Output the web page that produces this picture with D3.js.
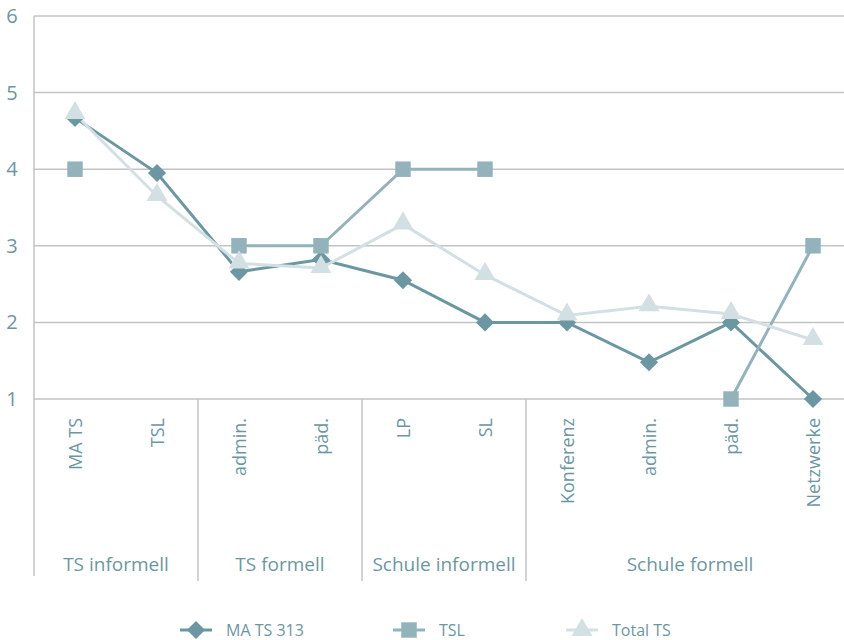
<!DOCTYPE html>
<html>
<head>
<meta charset="utf-8">
<script src="https://cdn.jsdelivr.net/npm/d3@7"></script>
<style>
  html, body { margin: 0; padding: 0; background: #fff; }
  svg { display: block; font-family: "Open Sans", sans-serif; }
</style>
</head>
<body>
<svg id="chart" width="844" height="640"></svg>
<script>
// Categories (inner level) and their groups (outer level)
const categories = ["MA TS", "TSL", "admin.", "päd.", "LP", "SL", "Konferenz", "admin.", "päd.", "Netzwerke"];
const groups = [
  { name: "TS informell", from: 0, to: 2 },
  { name: "TS formell", from: 2, to: 4 },
  { name: "Schule informell", from: 4, to: 6 },
  { name: "Schule formell", from: 6, to: 10 }
];
const yTicks = [1, 2, 3, 4, 5, 6];

// Series values (null = no value)
const maTs313 = [4.67, 3.95, 2.66, 2.82, 2.55, 2.0, 2.0, 1.48, 2.0, 1.0];
const tsl     = [4.0, null, 3.0, 3.0, 4.0, 4.0, null, null, 1.0, 3.0];
const totalTs = [4.72, 3.65, 2.77, 2.71, 3.28, 2.62, 2.09, 2.21, 2.11, 1.77];

const series = [
  { name: "MA TS 313", values: maTs313, color: "#6b97a2", symbol: d3.symbolDiamond2, size: 210 },
  { name: "TSL",       values: tsl,     color: "#93b3bc", symbol: d3.symbolSquare, size: 240 },
  { name: "Total TS",  values: totalTs, color: "#d3e0e3", symbol: d3.symbolTriangle, size: 190 }
];

const textColor = "#6b97a3";
const gridColor = "#c3c3c3";

const svg = d3.select("#chart");
const plotLeft = 34, plotTop = 16, plotBottom = 399;
const x = d3.scaleBand().domain(d3.range(categories.length)).range([plotLeft, plotLeft + 820]);
const y = d3.scaleLinear().domain([1, 6]).range([plotBottom, plotTop]);

// Horizontal gridlines
svg.append("g").selectAll("line").data(yTicks).join("line")
  .attr("x1", plotLeft).attr("x2", 844)
  .attr("y1", d => y(d)).attr("y2", d => y(d))
  .attr("stroke", gridColor).attr("stroke-width", 1.5);

// Y tick labels
svg.append("g").selectAll("text").data(yTicks).join("text")
  .attr("x", 12).attr("y", d => y(d) + 7)
  .attr("text-anchor", "middle")
  .attr("fill", textColor).attr("font-size", 20)
  .text(d => d);

// Vertical axis line and group separators
svg.append("line").attr("x1", plotLeft).attr("x2", plotLeft).attr("y1", plotTop).attr("y2", 576)
  .attr("stroke", gridColor).attr("stroke-width", 1.5);
svg.append("g").selectAll("line").data(groups.slice(1)).join("line")
  .attr("x1", d => x(d.from)).attr("x2", d => x(d.from))
  .attr("y1", plotBottom).attr("y2", 581)
  .attr("stroke", gridColor).attr("stroke-width", 1.5);

// Category labels (rotated)
svg.append("g").selectAll("text").data(categories).join("text")
  .attr("transform", (d, i) => `translate(${x(i) + x.bandwidth() / 2 + 7},418) rotate(-90)`)
  .attr("text-anchor", "end")
  .attr("fill", textColor).attr("font-size", 18)
  .text(d => d);

// Group labels
svg.append("g").selectAll("text").data(groups).join("text")
  .attr("x", d => (x(d.from) + (d.to < categories.length ? x(d.to) : x(d.to - 1) + x.bandwidth())) / 2)
  .attr("y", 571)
  .attr("text-anchor", "middle")
  .attr("fill", textColor).attr("font-size", 19)
  .text(d => d.name);

const cx = i => x(i) + x.bandwidth() / 2;
const line = d3.line().defined(d => d != null).x((d, i) => cx(i)).y(d => y(d));

// Lines and markers
series.forEach(s => {
  svg.append("path").datum(s.values)
    .attr("d", line)
    .attr("fill", "none").attr("stroke", s.color).attr("stroke-width", 3);
});
series.forEach(s => {
  const pts = s.values.map((v, i) => ({ v, i })).filter(d => d.v != null);
  svg.append("g").selectAll("path").data(pts).join("path")
    .attr("d", d3.symbol().type(s.symbol).size(s.size))
    .attr("transform", d => `translate(${cx(d.i)},${y(d.v) + (s.symbol === d3.symbolTriangle ? -1 : 0)})`)
    .attr("fill", s.color);
});

// Legend
const legendX = [196, 409, 582];
const lg = svg.append("g").selectAll("g").data(series).join("g")
  .attr("transform", (d, i) => `translate(${legendX[i]},630)`);
lg.append("line").attr("x1", -16).attr("x2", 16)
  .attr("stroke", d => d.color).attr("stroke-width", 3);
lg.append("path")
  .attr("d", d => d3.symbol().type(d.symbol).size(d.size)())
  .attr("fill", d => d.color);
lg.append("text").attr("x", 30).attr("y", 6)
  .attr("fill", textColor).attr("font-size", 16)
  .text(d => d.name);
</script>
</body>
</html>
